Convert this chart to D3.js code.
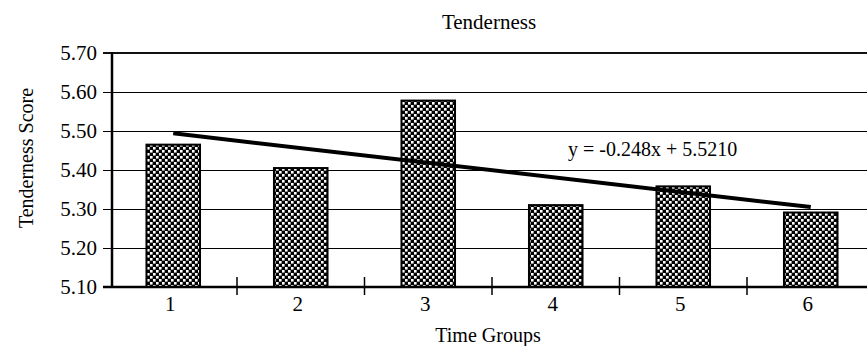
<!DOCTYPE html>
<html>
<head>
<meta charset="utf-8">
<script src="https://cdn.jsdelivr.net/npm/d3@7"></script>
<style>
  body { margin: 0; background: #fff; }
  svg { display: block; font-family: "Liberation Serif", "Times New Roman", serif; }
</style>
</head>
<body>
<svg width="867" height="346"></svg>
<script>
// chart values
var groups = ['1', '2', '3', '4', '5', '6'];
var scores = [5.465, 5.405, 5.578, 5.31, 5.358, 5.291];
var yTicks = [5.10, 5.20, 5.30, 5.40, 5.50, 5.60, 5.70];
var trendEnds = [5.494, 5.305]; // linear trend at group 1 and group 6
var equation = 'y = -0.248x + 5.5210';

var svg = d3.select('svg');

//scales
var xScale = d3.scaleBand()
    .domain(groups)
    .range([109.5, 874.5]);

var yScale = d3.scaleLinear()
    .domain([5.10, 5.70])
    .range([287, 53]);

var left = 112, right = 876;
var barWidth = xScale.bandwidth() * 0.42;

//checker fill like the printed hatch
var defs = svg.append('defs');
var pat = defs.append('pattern')
    .attr('id', 'checker')
    .attr('patternUnits', 'userSpaceOnUse')
    .attr('width', 6)
    .attr('height', 6);
pat.append('rect').attr('width', 6).attr('height', 6).style('fill', '#000');
pat.append('rect').attr('width', 2.6).attr('height', 2.6).style('fill', '#fff');
pat.append('rect').attr('x', 3).attr('y', 3).attr('width', 2.6).attr('height', 2.6).style('fill', '#fff');

//gridlines
svg.append('g')
    .selectAll('line')
    .data(yTicks.filter(d => d > 5.10 && d < 5.70))
    .enter()
    .append('line')
    .attr('x1', left - 9)
    .attr('x2', right)
    .attr('y1', d => Math.round(yScale(d)) + 0.5)
    .attr('y2', d => Math.round(yScale(d)) + 0.5)
    .style('stroke', '#000')
    .style('stroke-width', 1)
    .style('shape-rendering', 'crispEdges');

//top border
svg.append('line')
    .attr('x1', left - 9).attr('x2', right)
    .attr('y1', yScale(5.70)).attr('y2', yScale(5.70))
    .style('stroke', '#111')
    .style('stroke-width', 2)
    .style('shape-rendering', 'crispEdges');

//bars
svg.append('g')
    .selectAll('rect')
    .data(scores)
    .enter()
    .append('rect')
    .attr('x', (d, i) => xScale(groups[i]) + xScale.bandwidth() / 2 - barWidth / 2)
    .attr('y', d => yScale(d))
    .attr('width', barWidth)
    .attr('height', d => yScale(5.10) - yScale(d))
    .style('fill', 'url(#checker)')
    .style('stroke', '#000')
    .style('stroke-width', 2);

//trend line
var cx = g => xScale(g) + xScale.bandwidth() / 2;
svg.append('line')
    .attr('x1', cx(groups[0]))
    .attr('y1', yScale(trendEnds[0]))
    .attr('x2', cx(groups[groups.length - 1]))
    .attr('y2', yScale(trendEnds[1]))
    .style('stroke', '#000')
    .style('stroke-width', 4);

//y-axis labels
var yAxis = d3.axisLeft(yScale)
    .tickValues(yTicks)
    .tickFormat(d3.format('.2f'))
    .tickSize(0)
    .tickPadding(15);

var yg = svg.append('g')
    .attr('transform', 'translate(' + left + ',0)')
    .call(yAxis);
yg.select('.domain').remove();
yg.selectAll('text')
    .style('font-family', '"Liberation Serif", serif')
    .style('font-size', '21px')
    .style('fill', '#000');

svg.append('line')
    .attr('x1', left).attr('x2', left)
    .attr('y1', yScale(5.70) - 1).attr('y2', yScale(5.10) + 1)
    .style('stroke', '#000')
    .style('stroke-width', 2.5);

//x-axis
svg.append('line')
    .attr('x1', left - 9).attr('x2', right)
    .attr('y1', yScale(5.10)).attr('y2', yScale(5.10))
    .style('stroke', '#000')
    .style('stroke-width', 2.5);

svg.append('g')
    .selectAll('line')
    .data(groups.slice(1))
    .enter()
    .append('line')
    .attr('x1', d => xScale(d))
    .attr('x2', d => xScale(d))
    .attr('y1', yScale(5.10) - 10)
    .attr('y2', yScale(5.10) + 8)
    .style('stroke', '#000')
    .style('stroke-width', 1.5);

svg.append('g')
    .selectAll('text')
    .data(groups)
    .enter()
    .append('text')
    .attr('x', d => cx(d) - 3)
    .attr('y', 311)
    .attr('text-anchor', 'middle')
    .style('font-size', '21px')
    .text(d => d);

//labels
svg.append('text')
    .attr('x', 489)
    .attr('y', 29)
    .attr('text-anchor', 'middle')
    .style('font-size', '21px')
    .text('Tenderness');

svg.append('text')
    .attr('transform', 'translate(33,158) rotate(-90)')
    .attr('text-anchor', 'middle')
    .style('font-size', '20px')
    .text('Tenderness Score');

svg.append('text')
    .attr('x', 488)
    .attr('y', 342)
    .attr('text-anchor', 'middle')
    .style('font-size', '20px')
    .text('Time Groups');

svg.append('text')
    .attr('x', 568)
    .attr('y', 156)
    .style('font-size', '20px')
    .text(equation);
</script>
</body>
</html>
